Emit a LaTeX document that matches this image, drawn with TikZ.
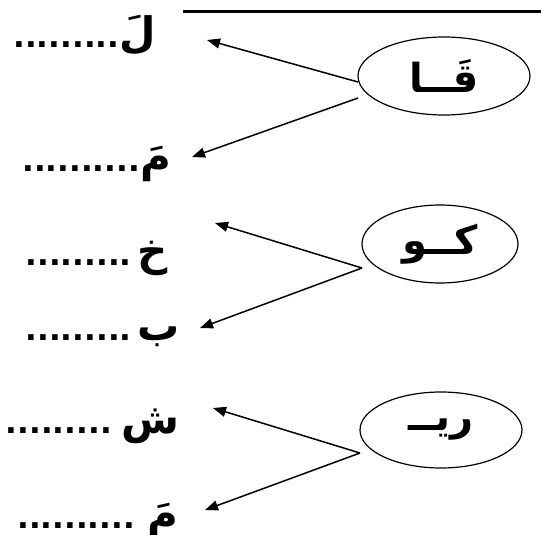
\documentclass[tikz,border=0pt]{standalone}
\usepackage{fontspec}
\usepackage{tikz}
\usetikzlibrary{shapes,arrows,positioning,calc,arrows.meta}

\newfontfamily\arabicfont[Script=Arabic]{DejaVu Sans}
\TeXXeTstate=1
\newcommand{\blankdots}[1]{{\fontsize{31}{31}\selectfont #1}}

\tikzset{
    syll/.style={draw, ellipse, line width=1.2pt, inner sep=0pt,
        font=\arabicfont\bfseries\fontsize{40}{40}\selectfont},
    answer/.style={anchor=base east, inner sep=0pt,
        font=\arabicfont\bfseries\fontsize{42}{42}\selectfont},
    pointer/.style={-{Triangle[length=13pt,width=10pt]}, line width=1.5pt},
}

\begin{document}
\begin{tikzpicture}[x=1pt,y=-1pt]
    \useasboundingbox (0,0) rectangle (541,535);
    % heading underline
    \draw[line width=3pt] (183,12) -- (541,12);

    % row 1
    \node[syll, minimum width=172pt, minimum height=78pt] (qa) at (444,76) {\beginR قَــا\endR};
    \node[answer] (lam) at (156,48) {\beginR لَ\blankdots{.........}\endR};
    \node[answer] (mim1) at (171,171) {\beginR مَ\blankdots{..........}\endR};
    \coordinate (qa-up) at (358,82);
    \coordinate (qa-dn) at (358,98);
    \coordinate (lam-tip) at (207,40);
    \coordinate (mim1-tip) at (192,157);
    \draw[pointer] (qa-up) -- (lam-tip);
    \draw[pointer] (qa-dn) -- (mim1-tip);

    % row 2
    \node[syll, minimum width=156pt, minimum height=78pt] (ko) at (440,244) {\beginR كــو\endR\hspace{40pt}};
    \node[answer] (kha) at (168,265) {\beginR خ\hspace{6pt}\blankdots{.........}\endR};
    \node[answer] (ba) at (180,340) {\beginR ب\hspace{6pt}\blankdots{.........}\endR};
    \coordinate (ko-v) at (362,268);
    \coordinate (kha-tip) at (215,223);
    \coordinate (ba-tip) at (200,328);
    \draw[pointer] (ko-v) -- (kha-tip);
    \draw[pointer] (ko-v) -- (ba-tip);

    % row 3
    \node[syll, minimum width=162pt, minimum height=76pt] (ri) at (441,430) {\beginR ريــ\endR\hspace{40pt}};
    \node[answer] (shin) at (180,433) {\beginR ش\hspace{10pt}\blankdots{.........}\endR};
    \node[answer] (mim2) at (178,528) {\beginR مَ\hspace{12pt}\blankdots{..........}\endR};
    \coordinate (ri-v) at (360,453);
    \coordinate (shin-tip) at (213,408);
    \coordinate (mim2-tip) at (205,510);
    \draw[pointer] (ri-v) -- (shin-tip);
    \draw[pointer] (ri-v) -- (mim2-tip);
\end{tikzpicture}
\end{document}
